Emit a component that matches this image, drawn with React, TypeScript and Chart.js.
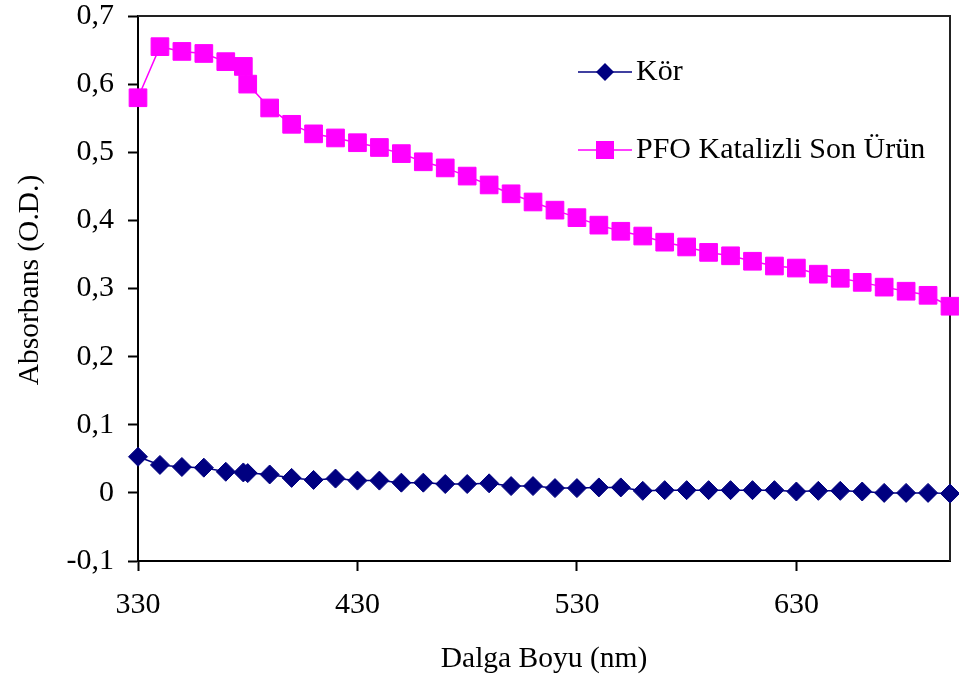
import React, { useEffect, useRef } from "react";
import { Chart, registerables } from "chart.js";

Chart.register(...registerables);

// Wavelengths (nm) sampled for both spectra
const wavelengths = [
  330, 340, 350, 360, 370, 378, 380, 390, 400, 410, 420, 430, 440, 450, 460,
  470, 480, 490, 500, 510, 520, 530, 540, 550, 560, 570, 580, 590, 600, 610,
  620, 630, 640, 650, 660, 670, 680, 690, 700,
];

// Blank sample absorbance
const korValues = [
  0.053, 0.041, 0.038, 0.037, 0.031, 0.030, 0.029, 0.027, 0.022, 0.019, 0.021,
  0.018, 0.018, 0.015, 0.015, 0.013, 0.013, 0.014, 0.010, 0.010, 0.007, 0.007,
  0.008, 0.008, 0.003, 0.004, 0.004, 0.004, 0.004, 0.004, 0.004, 0.002, 0.003,
  0.003, 0.002, 0.0, 0.0, 0.0, -0.001,
];

// PFO-catalysed end product absorbance
const pfoValues = [
  0.58, 0.655, 0.648, 0.645, 0.633, 0.626, 0.6, 0.565, 0.541, 0.527, 0.521,
  0.514, 0.507, 0.498, 0.486, 0.477, 0.465, 0.452, 0.439, 0.427, 0.415, 0.404,
  0.393, 0.384, 0.377, 0.368, 0.361, 0.353, 0.348, 0.34, 0.333, 0.33, 0.321,
  0.315, 0.309, 0.302, 0.296, 0.29, 0.274,
];

const seriesNames = ["Kör", "PFO Katalizli Son Ürün"];
const xTickValues = [330, 430, 530, 630];
const xTitle = "Dalga Boyu (nm)";
const yTitle = "Absorbans (O.D.)";

const FONT = "'Liberation Serif', 'Times New Roman', serif";
const NAVY = "#000080";
const MAGENTA = "#ff00ff";

// Top and right edges of the plot frame, plus the vertical axis title
const framePlugin = {
  id: "frame",
  beforeDatasetsDraw(chart: any) {
    const { ctx, chartArea } = chart;
    ctx.save();
    ctx.strokeStyle = "#222";
    ctx.lineWidth = 2;
    ctx.beginPath();
    ctx.moveTo(chartArea.left, chartArea.top);
    ctx.lineTo(chartArea.right, chartArea.top);
    ctx.lineTo(chartArea.right, chartArea.bottom);
    ctx.stroke();

    ctx.translate(30, chartArea.top + 264);
    ctx.rotate(-Math.PI / 2);
    ctx.fillStyle = "#000";
    ctx.font = `29.5px ${FONT}`;
    ctx.textAlign = "center";
    ctx.textBaseline = "middle";
    ctx.fillText(yTitle, 0, 0);
    ctx.restore();
  },
};

// Legend drawn inside the plot area
const insideLegend = {
  id: "insideLegend",
  afterDatasetsDraw(chart: any) {
    const { ctx, chartArea } = chart;
    const rowY = [chartArea.top + 56, chartArea.top + 134];
    const lineStart = chartArea.left + 440;
    const lineEnd = lineStart + 54;
    const markX = (lineStart + lineEnd) / 2;
    chart.data.datasets.forEach((ds: any, i: number) => {
      const y = rowY[i];
      ctx.save();
      ctx.strokeStyle = ds.borderColor;
      ctx.fillStyle = ds.backgroundColor;
      ctx.lineWidth = 1.5;
      ctx.beginPath();
      ctx.moveTo(lineStart, y);
      ctx.lineTo(lineEnd, y);
      ctx.stroke();
      if (ds.pointStyle === "rectRot") {
        const r = 9;
        ctx.beginPath();
        ctx.moveTo(markX - r, y);
        ctx.lineTo(markX, y - r);
        ctx.lineTo(markX + r, y);
        ctx.lineTo(markX, y + r);
        ctx.closePath();
        ctx.fill();
      } else {
        ctx.fillRect(markX - 9, y - 9, 18, 18);
      }
      ctx.fillStyle = "#000";
      ctx.font = `30px ${FONT}`;
      ctx.textAlign = "left";
      ctx.textBaseline = "middle";
      ctx.fillText(ds.label, lineEnd + 4, y);
      ctx.restore();
    });
  },
};

function formatTick(v: number | string) {
  const n = Number(v);
  if (Math.abs(n) < 1e-9) return "0";
  return n.toFixed(1).replace(".", ",");
}

export default function App() {
  const canvasRef = useRef<HTMLCanvasElement | null>(null);

  useEffect(() => {
    const canvas = canvasRef.current;
    if (!canvas) return;

    const chart = new Chart(canvas, {
      type: "line",
      data: {
        datasets: [
          {
            label: seriesNames[0],
            data: wavelengths.map((x, i) => ({ x, y: korValues[i] })),
            borderColor: NAVY,
            backgroundColor: NAVY,
            borderWidth: 1.5,
            pointStyle: "rectRot",
            pointRadius: 9.5,
            pointBorderWidth: 1,
            pointBorderColor: NAVY,
            pointBackgroundColor: NAVY,
            tension: 0,
            clip: false,
          },
          {
            label: seriesNames[1],
            data: wavelengths.map((x, i) => ({ x, y: pfoValues[i] })),
            borderColor: MAGENTA,
            backgroundColor: MAGENTA,
            borderWidth: 1.5,
            pointStyle: "rect",
            pointRadius: 12.5,
            pointBorderWidth: 1,
            pointBorderColor: MAGENTA,
            pointBackgroundColor: MAGENTA,
            tension: 0,
            clip: false,
          },
        ],
      },
      options: {
        animation: false,
        responsive: true,
        maintainAspectRatio: false,
        layout: {
          autoPadding: false,
          padding: { top: 16, right: 9, left: 0, bottom: 0 },
        },
        plugins: {
          legend: { display: false },
          tooltip: { enabled: false },
        },
        scales: {
          x: {
            type: "linear",
            min: 330,
            max: 700,
            afterBuildTicks: (scale: any) => {
              scale.ticks = xTickValues.map((v) => ({ value: v }));
            },
            afterFit: (scale: any) => {
              scale.height = 123;
              scale.paddingLeft = 0;
              scale.paddingRight = 0;
            },
            border: { display: true, color: "#000", width: 2 },
            grid: {
              drawOnChartArea: false,
              drawTicks: true,
              tickLength: 10,
              tickColor: "#000",
              tickWidth: 2,
            },
            ticks: {
              color: "#000",
              padding: 16,
              maxRotation: 0,
              font: { family: FONT, size: 30 },
              callback: (v: any) => String(v),
            },
            title: {
              display: true,
              text: xTitle,
              color: "#000",
              font: { family: FONT, size: 29.5 },
              padding: { top: 0, bottom: 7 },
            },
          },
          y: {
            min: -0.1,
            max: 0.7,
            afterFit: (scale: any) => {
              scale.width = 138;
              scale.paddingTop = 0;
              scale.paddingBottom = 0;
            },
            border: { display: true, color: "#000", width: 2 },
            grid: {
              drawOnChartArea: false,
              drawTicks: true,
              tickLength: 10,
              tickColor: "#000",
              tickWidth: 2,
            },
            ticks: {
              stepSize: 0.1,
              color: "#000",
              padding: 14,
              font: { family: FONT, size: 30 },
              callback: (v: any) => formatTick(v),
            },
            title: { display: false },
          },
        },
      },
      plugins: [framePlugin, insideLegend],
    } as any);

    return () => chart.destroy();
  }, []);

  return (
    <div
      style={{
        position: "absolute",
        left: 0,
        top: 0,
        width: 959,
        height: 684,
        background: "#fff",
      }}
    >
      <canvas ref={canvasRef} />
    </div>
  );
}
